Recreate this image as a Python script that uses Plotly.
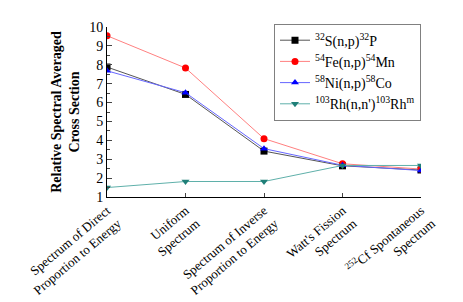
import plotly.graph_objects as go

categories = ["Spectrum of Direct<br>Proportion to Energy", "Uniform<br>Spectrum",
              "Spectrum of Inverse<br>Proportion to Energy", "Watt's Fission<br>Spectrum",
              "<sup>252</sup>Cf Spontaneous<br>Spectrum"]
s32 = [7.88, 6.43, 3.43, 2.65, 2.43]
fe54 = [9.54, 7.83, 4.09, 2.76, 2.48]
ni58 = [7.68, 6.52, 3.56, 2.68, 2.40]
rh103 = [1.50, 1.82, 1.82, 2.67, 2.67]

names = ["<sup>32</sup>S(n,p)<sup>32</sup>P", "<sup>54</sup>Fe(n,p)<sup>54</sup>Mn",
         "<sup>58</sup>Ni(n,p)<sup>58</sup>Co", "<sup>103</sup>Rh(n,n')<sup>103</sup>Rh<sup>m</sup>"]
series = [s32, fe54, ni58, rh103]
mcolors = ["#000000", "#ff0000", "#0000ff", "#1f7f78"]
lcolors = ["#555555", "#ff8080", "#6666ff", "#5fb0aa"]
symbols = ["square", "circle", "triangle-up", "triangle-down"]

x = list(range(len(categories)))
fig = go.Figure()
for n, v, mc, lc, sy in zip(names, series, mcolors, lcolors, symbols):
    fig.add_trace(go.Scatter(x=x, y=v, name=n, mode="lines+markers",
                             line=dict(color=lc, width=1),
                             marker=dict(color=mc, symbol=sy, size=7)))

font = "Liberation Serif"
fig.update_layout(
    width=463, height=302, margin=dict(l=90, r=50, t=15, b=100),
    plot_bgcolor="white", paper_bgcolor="white",
    font=dict(family=font, size=14, color="black"),
    showlegend=True,
    legend=dict(x=1, xanchor="right", y=1.02, yanchor="top",
                bordercolor="#808080", borderwidth=1, bgcolor="white",
                font=dict(family=font, size=14), tracegroupgap=0),
    xaxis=dict(range=[0, 4], tickmode="array", tickvals=x, ticktext=categories,
               tickangle=-40, ticks="inside", ticklen=4, showline=True,
               linecolor="black", linewidth=1, showgrid=False, zeroline=False,
               tickfont=dict(family=font, size=13)),
    yaxis=dict(range=[1, 10], dtick=1, ticks="inside", ticklen=5, showline=True,
               linecolor="black", linewidth=1, showgrid=False, zeroline=False,
               minor=dict(dtick=0.5, ticks="inside", ticklen=3),
               tickfont=dict(family=font, size=14),
               title=dict(text="<b>Relative Spectral Averaged<br>Cross Section</b>",
                          font=dict(family=font, size=14), standoff=6)),
)
fig.write_html("out.html")
